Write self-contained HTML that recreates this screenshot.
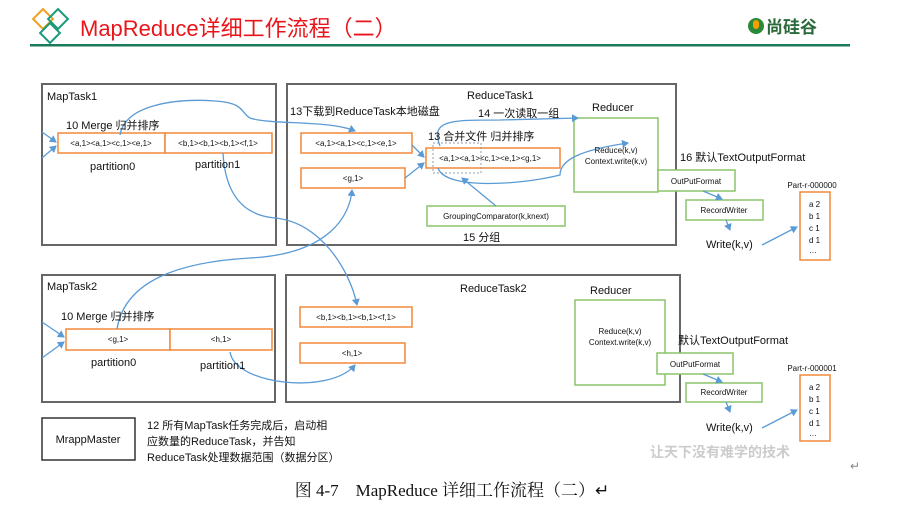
<!DOCTYPE html>
<html><head><meta charset="utf-8"><style>
body{margin:0;background:#fff;}
svg text{font-family:"Liberation Sans","Noto Sans CJK SC",sans-serif;fill:#111;}
</style></head><body>
<svg width="901" height="505" viewBox="0 0 901 505" xmlns="http://www.w3.org/2000/svg">
<defs><marker id="a" markerWidth="8" markerHeight="8" refX="6" refY="4" orient="auto" markerUnits="userSpaceOnUse"><path d="M0,0 L7,4 L0,8 z" fill="#5b9bd5"/></marker></defs>
<!-- header -->
<g fill="none" stroke-width="2">
<rect x="36" y="12" width="14" height="14" transform="rotate(45 43 19)" stroke="#f0a020"/>
<rect x="51" y="12" width="14" height="14" transform="rotate(45 58 19)" stroke="#1a9a7a"/>
<rect x="43" y="26" width="14" height="14" transform="rotate(45 50 33)" stroke="#1a9a7a"/>
</g>
<text x="80" y="36" font-size="22" style="fill:#e8151b">MapReduce详细工作流程（二）</text>
<rect x="30" y="44" width="820" height="2.5" fill="#1a7a5a"/>
<circle cx="756" cy="26" r="8" fill="#2a8a3a"/><rect x="753" y="20" width="6" height="9" rx="3" fill="#f5a000"/>
<text x="766" y="33" font-size="17" style="fill:#2a6a3a;font-weight:bold">尚硅谷</text>
<!-- boxes -->
<g fill="none" stroke="#666" stroke-width="2">
<rect x="42" y="84" width="234" height="161"/>
<rect x="287" y="84" width="389" height="161"/>
<rect x="42" y="275" width="233" height="127"/>
<rect x="286" y="275" width="394" height="127"/>
</g>
<rect x="42" y="418" width="93" height="42" fill="none" stroke="#333" stroke-width="1.5"/>
<g fill="#fff" stroke="#f0883a" stroke-width="1.5">
<rect x="58" y="133" width="107" height="20"/><rect x="165" y="133" width="107" height="20"/>
<rect x="301" y="133" width="111" height="20"/><rect x="301" y="168" width="104" height="20"/>
<rect x="426" y="148" width="134" height="20"/>
<rect x="66" y="329" width="104" height="21"/><rect x="170" y="329" width="102" height="21"/>
<rect x="300" y="307" width="112" height="20"/><rect x="300" y="343" width="105" height="20"/>
<rect x="800" y="192" width="30" height="68"/><rect x="800" y="375" width="30" height="66"/>
</g>
<rect x="433" y="143" width="48" height="30" fill="none" stroke="#99a" stroke-dasharray="2,2" stroke-width="1"/>
<g fill="#fff" stroke="#8cc46a" stroke-width="1.5">
<rect x="574" y="118" width="84" height="74"/>
<rect x="427" y="206" width="138" height="20"/>
<rect x="658" y="170" width="77" height="21"/>
<rect x="686" y="200" width="77" height="20"/>
<rect x="575" y="300" width="90" height="85"/>
<rect x="657" y="353" width="76" height="21"/>
<rect x="686" y="383" width="76" height="19"/>
</g>
<!-- connectors -->
<g fill="none" stroke="#5b9bd5" stroke-width="1.3">
<path d="M120,135 C125,105 175,98 215,101 C245,103 240,112 250,118 C270,125 330,120 355,131" marker-end="url(#a)"/>
<path d="M223,153 C225,190 240,215 275,218 C320,222 350,270 357,305" marker-end="url(#a)"/>
<path d="M117,329 C125,280 180,262 250,258 C330,254 350,215 352,190" marker-end="url(#a)"/>
<path d="M230,352 C235,385 330,395 355,365" marker-end="url(#a)"/>
<path d="M42,132 L56,142" marker-end="url(#a)"/><path d="M42,158 L56,146" marker-end="url(#a)"/>
<path d="M42,322 L64,337" marker-end="url(#a)"/><path d="M42,358 L64,342" marker-end="url(#a)"/>
<path d="M412,145 L424,157" marker-end="url(#a)"/><path d="M405,178 L424,163" marker-end="url(#a)"/>
<path d="M440,146 C430,120 450,120 500,120 L578,118" marker-end="url(#a)"/>
<path d="M438,168 C445,190 520,185 560,175 C560,160 580,150 628,143" marker-end="url(#a)"/>
<path d="M496,206 L462,178" marker-end="url(#a)"/>
<path d="M703,191 L722,199" marker-end="url(#a)"/>
<path d="M726,220 L730,230" marker-end="url(#a)"/>
<path d="M762,245 L797,227" marker-end="url(#a)"/>
<path d="M703,374 L722,382" marker-end="url(#a)"/>
<path d="M726,402 L730,412" marker-end="url(#a)"/>
<path d="M762,428 L797,410" marker-end="url(#a)"/>
</g>
<!-- labels -->
<g font-size="11">
<text x="47" y="100">MapTask1</text>
<text x="467" y="99">ReduceTask1</text>
<text x="592" y="111">Reducer</text>
<text x="290" y="115">13下载到ReduceTask本地磁盘</text>
<text x="478" y="117">14 一次读取一组</text>
<text x="428" y="140">13 合并文件 归并排序</text>
<text x="66" y="129">10 Merge 归并排序</text>
<text x="90" y="170">partition0</text>
<text x="195" y="168">partition1</text>
<text x="463" y="241">15 分组</text>
<text x="680" y="161">16 默认TextOutputFormat</text>
<text x="706" y="248">Write(k,v)</text>
<text x="47" y="290">MapTask2</text>
<text x="460" y="292">ReduceTask2</text>
<text x="590" y="294">Reducer</text>
<text x="61" y="320">10 Merge 归并排序</text>
<text x="91" y="366">partition0</text>
<text x="200" y="369">partition1</text>
<text x="678" y="344">默认TextOutputFormat</text>
<text x="706" y="431">Write(k,v)</text>
<text x="147" y="429">12 所有MapTask任务完成后，启动相</text>
<text x="147" y="445">应数量的ReduceTask，并告知</text>
<text x="147" y="461">ReduceTask处理数据范围（数据分区）</text>
</g>
<g font-size="8" text-anchor="middle">
<text x="111" y="146">&lt;a,1&gt;&lt;a,1&gt;&lt;c,1&gt;&lt;e,1&gt;</text>
<text x="218" y="146">&lt;b,1&gt;&lt;b,1&gt;&lt;b,1&gt;&lt;f,1&gt;</text>
<text x="356" y="146">&lt;a,1&gt;&lt;a,1&gt;&lt;c,1&gt;&lt;e,1&gt;</text>
<text x="353" y="181">&lt;g,1&gt;</text>
<text x="490" y="161">&lt;a,1&gt;&lt;a,1&gt;&lt;c,1&gt;&lt;e,1&gt;&lt;g,1&gt;</text>
<text x="616" y="153">Reduce(k,v)</text><text x="616" y="164">Context.write(k,v)</text>
<text x="496" y="219">GroupingComparator(k,knext)</text>
<text x="696" y="184">OutPutFormat</text>
<text x="724" y="213">RecordWriter</text>
<text x="812" y="188">Part-r-000000</text>
<text x="118" y="342">&lt;g,1&gt;</text>
<text x="221" y="342">&lt;h,1&gt;</text>
<text x="356" y="320">&lt;b,1&gt;&lt;b,1&gt;&lt;b,1&gt;&lt;f,1&gt;</text>
<text x="352" y="356">&lt;h,1&gt;</text>
<text x="620" y="334">Reduce(k,v)</text><text x="620" y="345">Context.write(k,v)</text>
<text x="695" y="367">OutPutFormat</text>
<text x="724" y="395">RecordWriter</text>
<text x="812" y="371">Part-r-000001</text>
</g>
<g font-size="8">
<text x="809" y="207">a 2</text><text x="809" y="219">b 1</text><text x="809" y="231">c 1</text><text x="809" y="243">d 1</text><text x="809" y="253">…</text>
<text x="809" y="390">a 2</text><text x="809" y="402">b 1</text><text x="809" y="414">c 1</text><text x="809" y="426">d 1</text><text x="809" y="436">…</text>
</g>
<text x="88" y="443" font-size="11" text-anchor="middle">MrappMaster</text>
<text x="650" y="457" font-size="14" style="fill:#ccc;font-weight:bold">让天下没有难学的技术</text>
<text x="850" y="470" font-size="12" style="fill:#888">↵</text>
<text x="452" y="496" font-size="17" text-anchor="middle" style="font-family:'Liberation Serif','Noto Serif CJK SC',serif">图 4-7　MapReduce 详细工作流程（二）↵</text>
</svg>
</body></html>
